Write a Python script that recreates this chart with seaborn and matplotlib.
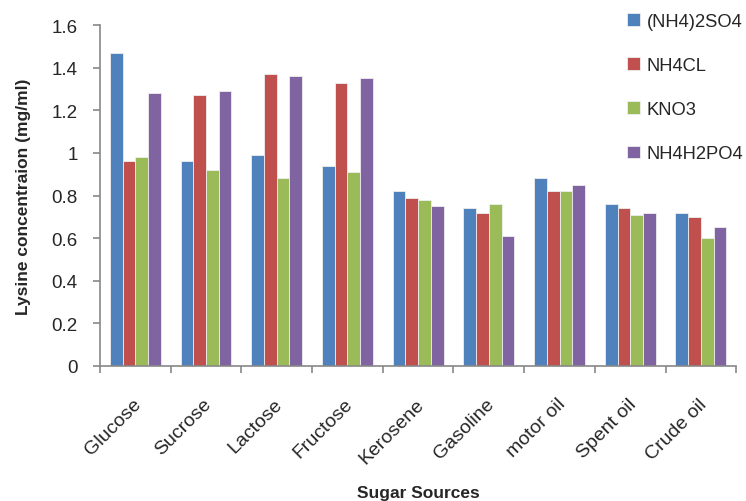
import numpy as np
import pandas as pd
import matplotlib
matplotlib.use("Agg")
import matplotlib.pyplot as plt
import matplotlib.transforms as mtransforms
import seaborn as sns
from matplotlib.ticker import FixedLocator

categories = ["Glucose", "Sucrose", "Lactose", "Fructose", "Kerosene",
              "Gasoline", "motor oil", "Spent oil", "Crude oil"]
series_names = ["(NH4)2SO4", "NH4CL", "KNO3", "NH4H2PO4"]
nh4_2so4 = [1.47, 0.96, 0.99, 0.94, 0.82, 0.74, 0.88, 0.76, 0.72]
nh4cl = [0.96, 1.27, 1.37, 1.33, 0.79, 0.72, 0.82, 0.74, 0.70]
kno3 = [0.98, 0.92, 0.88, 0.91, 0.78, 0.76, 0.82, 0.71, 0.60]
nh4h2po4 = [1.28, 1.29, 1.36, 1.35, 0.75, 0.61, 0.85, 0.72, 0.65]
y_ticks = [0, 0.2, 0.4, 0.6, 0.8, 1.0, 1.2, 1.4, 1.6]
y_tick_labels = ["0", "0.2", "0.4", "0.6", "0.8", "1", "1.2", "1.4", "1.6"]
colors = ["#4F81BD", "#C0504D", "#9BBB59", "#8064A2"]

frames = []
for name, vals in zip(series_names, [nh4_2so4, nh4cl, kno3, nh4h2po4]):
    frames.append(pd.DataFrame({"source": categories, "salt": name, "value": vals}))
df = pd.concat(frames, ignore_index=True)

sns.set_style("white")
plt.rcParams["font.family"] = ["Liberation Sans", "DejaVu Sans"]

fig = plt.figure(figsize=(7.46, 5.02), dpi=100)
ax = fig.add_axes([0.134, 0.269, 0.853, 0.679])

sns.barplot(data=df, x="source", y="value", hue="salt", order=categories,
            hue_order=series_names, palette=colors, saturation=1,
            width=0.72, gap=0, edgecolor="#eeeeee", linewidth=0.6,
            ax=ax, legend=True)

ax.set_xlim(-0.5, len(categories) - 0.5)
ax.set_ylim(0, 1.6)
ax.set_yticks(y_ticks)
ax.set_yticklabels(y_tick_labels)

for side in ["top", "right"]:
    ax.spines[side].set_visible(False)
for side in ["left", "bottom"]:
    ax.spines[side].set_color("#888888")
    ax.spines[side].set_linewidth(1.2)

ax.tick_params(axis="y", which="major", length=5, width=1.2, color="#888888",
               labelsize=13.5, pad=11, left=True)
ax.xaxis.set_minor_locator(FixedLocator(np.arange(-0.5, len(categories), 1.0)))
ax.tick_params(axis="x", which="minor", length=5, width=1.2, color="#888888",
               bottom=True, direction="out")
ax.tick_params(axis="x", which="major", length=0, labelsize=14, pad=21)
shift = mtransforms.ScaledTranslation(-3 / 100, 0, fig.dpi_scale_trans)
for lbl in ax.get_xticklabels():
    lbl.set_rotation(45)
    lbl.set_ha("right")
    lbl.set_rotation_mode("anchor")
    lbl.set_transform(lbl.get_transform() + shift)

ax.set_xlabel("Sugar Sources", fontsize=12.5, fontweight="bold")
ax.xaxis.set_label_coords(0.5, -0.35)
ax.set_ylabel("Lysine concentraion (mg/ml)", fontsize=12.5, fontweight="bold", labelpad=15)

handles, labels = ax.get_legend_handles_labels()
ax.get_legend().remove()
fig.legend(handles, labels, loc="upper left", bbox_to_anchor=(0.818, 1.005),
           frameon=False, fontsize=13.2, handlelength=0.7, handleheight=0.7,
           handletextpad=0.4, labelspacing=1.48)

fig.savefig("out.png", dpi=100)
